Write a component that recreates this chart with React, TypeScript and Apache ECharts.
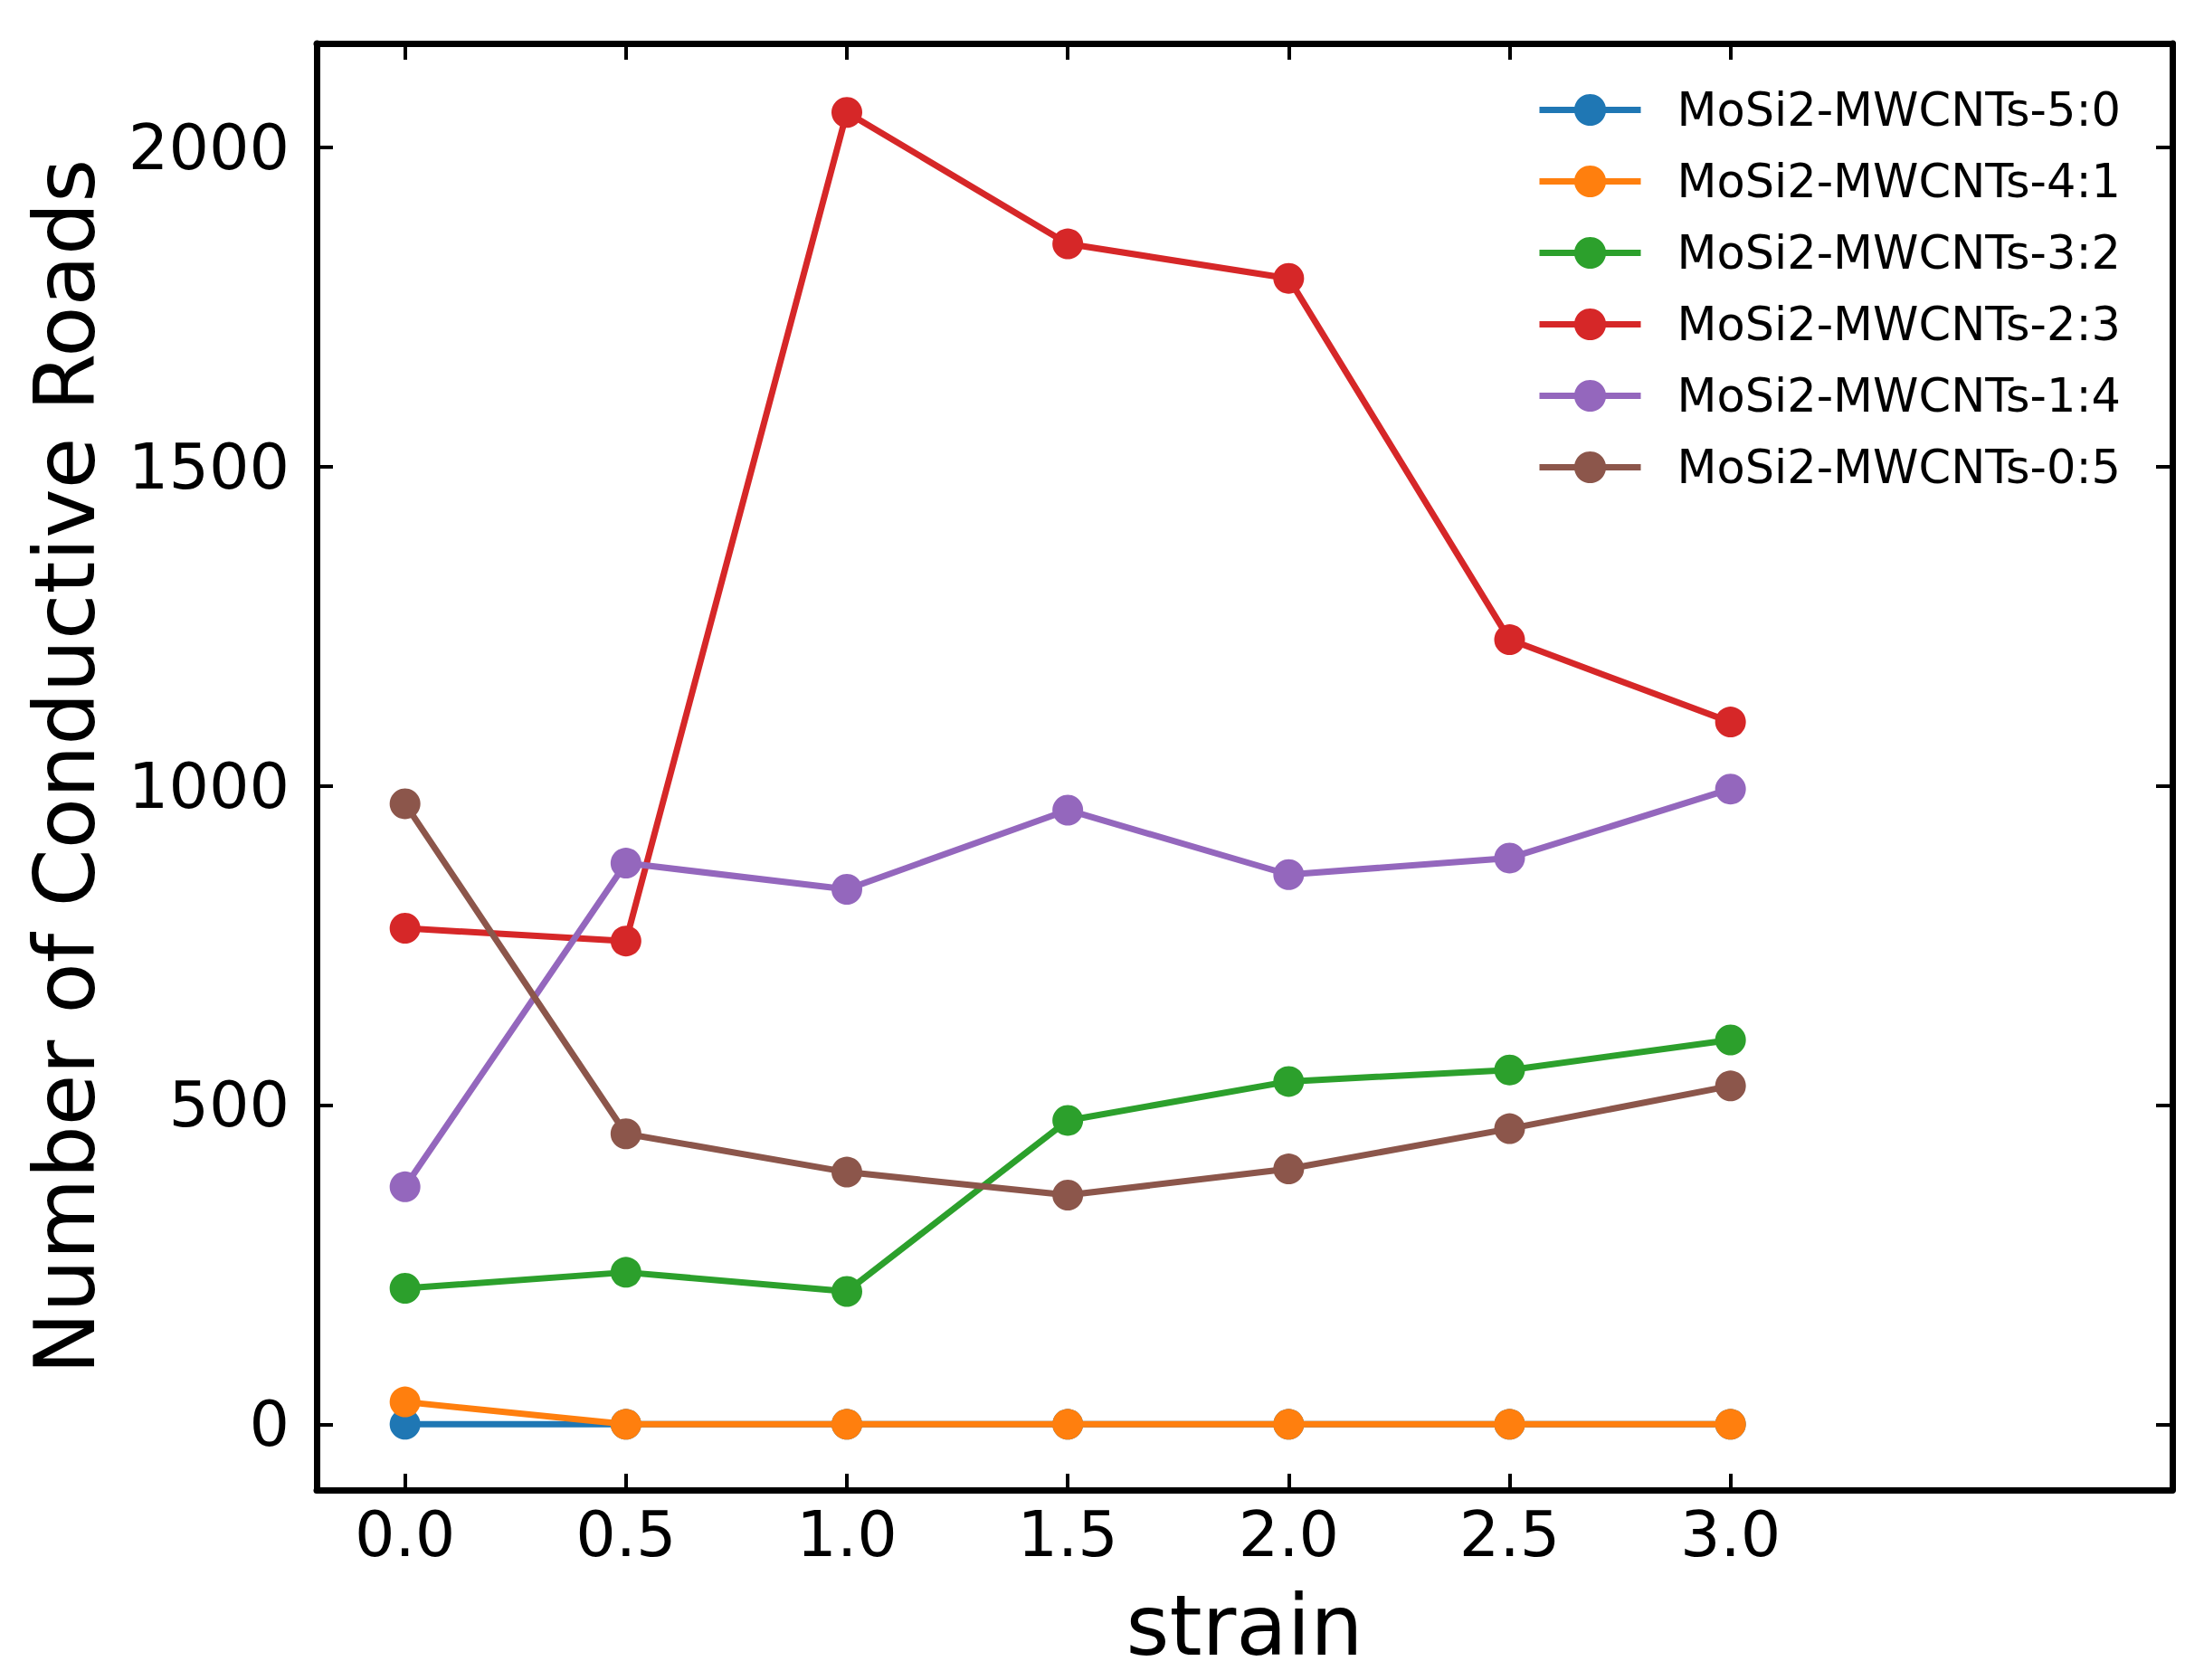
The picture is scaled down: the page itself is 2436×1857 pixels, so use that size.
import React, { useEffect, useRef } from "react";
import * as echarts from "echarts";

const strain = [0, 0.5, 1.0, 1.5, 2.0, 2.5, 3.0];
const seriesNames = [
  "MoSi2-MWCNTs-5:0",
  "MoSi2-MWCNTs-4:1",
  "MoSi2-MWCNTs-3:2",
  "MoSi2-MWCNTs-2:3",
  "MoSi2-MWCNTs-1:4",
  "MoSi2-MWCNTs-0:5",
];
const ratio50 = [0, 0, 0, 0, 0, 0, 0];
const ratio41 = [35, 0, 0, 0, 0, 0, 0];
const ratio32 = [213, 238, 208, 476, 537, 555, 602];
const ratio23 = [777, 757, 2055, 1849, 1795, 1229, 1100];
const ratio14 = [372, 879, 838, 962, 861, 887, 995];
const ratio05 = [972, 455, 395, 359, 400, 463, 530];
const allValues = [ratio50, ratio41, ratio32, ratio23, ratio14, ratio05];
const colors = ["#1f77b4", "#ff7f0e", "#2ca02c", "#d62728", "#9467bd", "#8c564b"];
const xTicks = [0, 0.5, 1.0, 1.5, 2.0, 2.5, 3.0];
const yTicks = [0, 500, 1000, 1500, 2000];

const FONT = "DejaVu Sans";

export default function App() {
  const chartRef = useRef<HTMLDivElement>(null);

  useEffect(() => {
    if (!chartRef.current) return;
    const chart = echarts.init(chartRef.current, null, { renderer: "svg" });

    const axisLine = { show: true, onZero: false, lineStyle: { color: "#000", width: 7 } };
    const tick = (vals: number[]) => ({
      show: true,
      inside: true,
      length: 18,
      customValues: vals,
      lineStyle: { color: "#000", width: 4 },
    });

    const option = {
      animation: false,
      backgroundColor: "#fff",
      grid: { left: 350, right: 35, top: 48, bottom: 210, containLabel: false },
      legend: {
        orient: "vertical",
        left: 1698,
        top: 96,
        padding: 0,
        itemWidth: 112,
        itemHeight: 44,
        itemGap: 28,
        data: seriesNames,
        lineStyle: { width: 7 },
        textStyle: {
          fontFamily: FONT,
          fontSize: 51,
          color: "#000",
          padding: [0, 0, 0, 35],
        },
      },
      xAxis: [
        {
          type: "value",
          min: -0.2,
          max: 4.0,
          position: "bottom",
          name: "strain",
          nameLocation: "middle",
          nameGap: 104,
          nameTextStyle: { fontFamily: FONT, fontSize: 92, color: "#000" },
          axisLine,
          axisTick: tick(xTicks),
          axisLabel: {
            customValues: xTicks,
            margin: 14,
            fontFamily: FONT,
            fontSize: 70,
            color: "#000",
            formatter: (v: number) => v.toFixed(1),
          },
          splitLine: { show: false },
        },
        {
          type: "value",
          min: -0.2,
          max: 4.0,
          position: "top",
          axisLine,
          axisTick: tick(xTicks),
          axisLabel: { show: false, customValues: xTicks },
          splitLine: { show: false },
        },
      ],
      yAxis: [
        {
          type: "value",
          min: -103,
          max: 2163,
          position: "left",
          name: "Number of Conductive Roads",
          nameLocation: "middle",
          nameGap: 232,
          nameTextStyle: { fontFamily: FONT, fontSize: 92, color: "#000" },
          axisLine,
          axisTick: tick(yTicks),
          axisLabel: {
            customValues: yTicks,
            margin: 30,
            fontFamily: FONT,
            fontSize: 70,
            color: "#000",
            formatter: (v: number) => String(v),
          },
          splitLine: { show: false },
        },
        {
          type: "value",
          min: -103,
          max: 2163,
          position: "right",
          axisLine,
          axisTick: tick(yTicks),
          axisLabel: { show: false, customValues: yTicks },
          splitLine: { show: false },
        },
      ],
      series: seriesNames.map((name, i) => ({
        name,
        type: "line",
        xAxisIndex: 0,
        yAxisIndex: 0,
        data: strain.map((x, j) => [x, allValues[i][j]]),
        symbol: "circle",
        symbolSize: 34,
        showSymbol: true,
        color: colors[i],
        itemStyle: { color: colors[i] },
        lineStyle: { color: colors[i], width: 7 },
        z: 2 + i,
      })),
    };

    chart.setOption(option);
    return () => chart.dispose();
  }, []);

  return (
    <div style={{ position: "fixed", left: 0, top: 0, width: 2436, height: 1857, background: "#fff" }}>
      <div ref={chartRef} style={{ width: 2436, height: 1857 }} />
    </div>
  );
}
